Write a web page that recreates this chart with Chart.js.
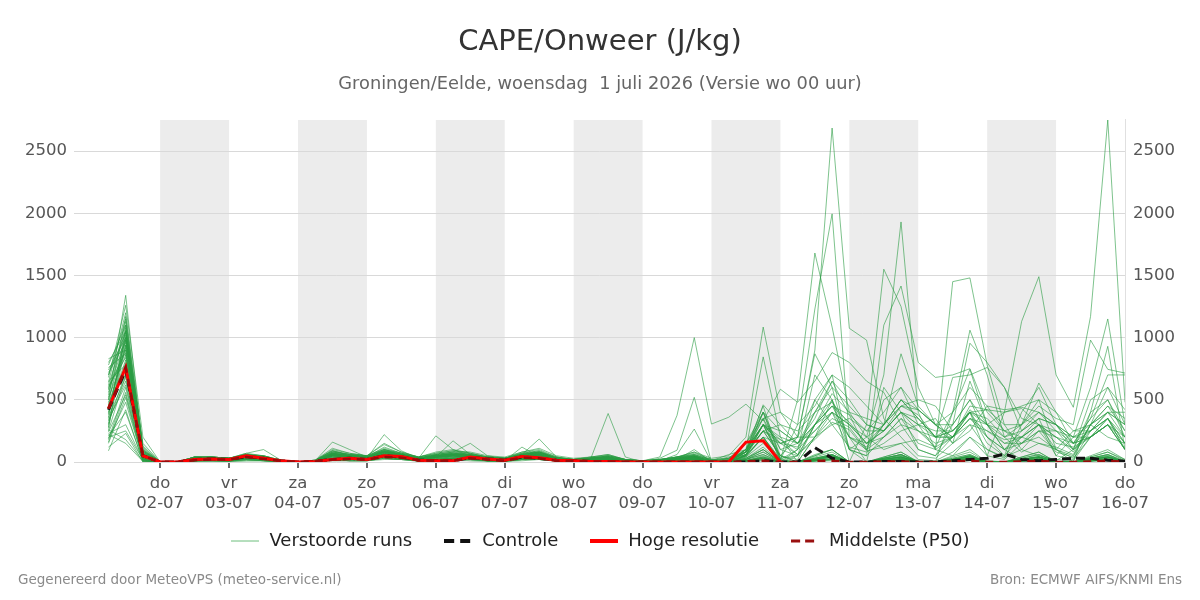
<!DOCTYPE html>
<html><head><meta charset="utf-8">
<script src="https://cdn.jsdelivr.net/npm/chart.js@4.4.1/dist/chart.umd.min.js"></script>
<style>html,body{margin:0;padding:0;background:#fff}canvas{display:block}</style>
</head><body>
<canvas id="c" width="1200" height="600"></canvas>
<script>
// hours since 1 July 00h (6-hourly steps)
const stepHours = [6,12,18,24,30,36,42,48,54,60,66,72,78,84,90,96,102,108,114,120,126,132,138,144,150,156,162,168,174,180,186,192,198,204,210,216,222,228,234,240,246,252,258,264,270,276,282,288,294,300,306,312,318,324,330,336,342,348,354,360];
const tickHours = [24,48,72,96,120,144,168,192,216,240,264,288,312,336,360];
const dayNames = ['do','vr','za','zo','ma','di','wo','do','vr','za','zo','ma','di','wo','do'];
const dayDates = ['02-07','03-07','04-07','05-07','06-07','07-07','08-07','09-07','10-07','11-07','12-07','13-07','14-07','15-07','16-07'];
const shadedStartHours = [24,72,120,168,216,264,312];
const yTickValues = [0,500,1000,1500,2000,2500];

const hres = [430,760,50, 0,0,20,25, 20,50,30,10, 0,5,20,30, 20,50,45,15, 10,10,40,25, 15,45,35,15, 10,5,5,0, 0,0,0,0, 0,0,160,170, 0, null,null,null,null,null,null,null,null,null,null,null,null,null,null,null,null,null,null,null,null];
const control = [420,740,50, 0,0,20,25, 20,45,30,10, 0,5,20,30, 20,50,40,15, 10,10,35,25, 15,40,30,15, 10,5,5,0, 0,0,0,0, 0,0,0,10, 0,0,115,30, 0,0,5,5, 0,0,10,20, 30,65,20,10, 20,30,30,15, 5];
const p50 = [430,760,50, 0,0,15,20, 20,40,25,10, 0,5,20,25, 20,40,35,15, 10,10,30,20, 10,35,30,10, 5,5,5,0, 0,0,0,0, 0,0,5,10, 0,0,10,10, 0,0,5,5, 0,0,5,10, 0,0,5,10, 0,0,5,10, 0];

const run01 = [620,1050,60, 0,0,30,20, 20,50,40,10, 0,10,90,50, 40,100,60,30, 50,60,40,30, 20,60,70,30, 10,30,40,10, 5,10,40,80, 10,0,50,300, 150,200,900,2685, 1075,980,350,200, 50,30,150,300, 100,40,100,250, 80,40,300,400, 200];
const run02 = [830,900,40, 0,0,20,30, 30,40,30,5, 0,5,60,40, 30,80,50,20, 40,60,50,30, 20,50,60,20, 10,20,30,10, 5,10,20,100, 0,20,150,400, 20,300,1230,1995, 200,0,600,400, 100,50,300,500, 200,50,400,600, 300,100,500,600, 300];
const run03 = [500,1340,80, 0,0,10,20, 20,30,20,5, 0,0,40,30, 30,60,40,20, 30,40,30,20, 10,40,50,20, 10,20,20,10, 0,5,10,20, 0,0,100,450, 20,500,1680,1085, 400,200,100,150, 20,10,80,200, 50,20,150,300, 100,30,200,350, 150];
const run04 = [300,980,30, 0,0,40,30, 20,50,30,10, 0,10,80,60, 40,120,70,30, 60,80,60,40, 30,70,90,40, 20,30,50,20, 10,20,30,60, 20,10,80,250, 50,0,200,500, 0,300,1550,1250, 600,300,200,400, 150,50,200,300, 50,20,250,350, 100];
const run05 = [250,700,20, 0,0,20,20, 10,30,20,0, 0,0,30,30, 20,50,30,10, 20,30,30,20, 10,30,40,10, 5,10,20,5, 0,0,10,30, 10,0,60,400, 100,50,500,700, 100,200,700,1930, 400,100,50,200, 100,30,300,500, 100,0,400,500, 250];
const run06 = [700,1150,100, 0,0,30,30, 20,60,50,10, 0,10,100,70, 50,140,80,40, 80,100,70,40, 30,80,100,40, 20,40,60,20, 10,20,40,50, 20,30,150,350, 0,100,400,600, 100,50,1100,1415, 800,680,700,750, 400,250,150,200, 100,50,300,450, 350];
const run07 = [420,820,50, 0,0,20,30, 20,40,30,5, 0,5,50,40, 30,70,50,30, 40,50,40,30, 20,50,60,20, 10,20,30,10, 5,10,30,40, 0,0,100,300, 50,20,300,500, 200,100,500,600, 300,100,1450,1480, 780,300,100,50, 20,10,200,300, 100];
const run08 = [180,600,10, 0,0,10,10, 10,20,10,0, 0,0,20,20, 20,40,30,10, 20,30,20,10, 10,20,30,10, 0,10,10,0, 0,0,10,20, 0,20,60,200, 150,60,180,320, 260,90,120,150, 180,120,400,1060, 700,200,80,150, 120,60,300,600, 420];
const run09 = [560,1000,70, 0,0,40,40, 30,60,40,10, 0,10,70,50, 40,90,60,30, 50,70,60,40, 30,60,80,30, 20,30,40,10, 5,10,30,40, 10,40,80,460, 300,150,350,650, 380,100,300,500, 350,200,300,955, 800,600,350,300, 200,80,300,400, 300];
const run10 = [350,1080,40, 0,0,20,20, 20,40,30,10, 0,5,50,40, 30,70,50,20, 40,50,40,20, 20,40,50,20, 10,20,30,10, 0,10,20,30, 0,10,50,200, 0,50,300,400, 100,50,200,300, 100,50,200,400, 50,400,1130,1490, 700,440,1170,2750, 480];
const run11 = [760,870,90, 0,0,30,30, 30,50,40,10, 0,10,60,50, 40,80,60,30, 50,60,50,30, 20,50,70,30, 10,20,30,10, 0,10,20,40, 0,30,60,300, 180,60,200,400, 200,120,300,450, 380,200,250,400, 300,150,200,350, 50,200,600,1150, 300];
const run12 = [90,420,0, 0,0,10,10, 5,10,10,0, 0,0,20,10, 10,30,20,10, 10,20,20,10, 5,20,20,10, 0,5,10,0, 0,0,5,10, 0,0,10,30, 0,0,20,60, 0,0,30,50, 10,0,20,40, 10,0,20,50, 10,100,400,930, 100];
const run13 = [280,940,60, 0,0,30,30, 20,50,40,10, 0,10,70,50, 40,90,60,30, 50,60,50,30, 20,60,70,30, 10,30,40,10, 5,10,30,50, 10,60,100,400, 250,150,400,480, 300,150,300,500, 420,300,400,600, 450,250,300,450, 350,300,980,745, 715];
const run14 = [640,1200,120, 0,0,40,40, 30,70,50,15, 0,15,110,70, 50,150,80,40, 70,90,80,50, 40,80,110,50, 30,40,60,20, 10,20,40,80, 30,50,200,1085, 400,200,500,300, 350,250,400,600, 420,300,300,500, 300,200,300,400, 250,150,350,500, 200];
const run15 = [200,250,20, 0,0,10,20, 10,30,20,0, 0,0,30,20, 20,40,30,10, 20,30,30,20, 10,30,40,10, 5,10,20,5, 0,5,10,20, 0,0,100,845, 200,0,20,40, 0,0,10,30, 0,0,10,30, 0,0,10,20, 0,0,10,30, 0];
const run16 = [480,760,30, 0,0,20,20, 20,40,30,10, 0,5,50,40, 30,60,40,20, 40,50,40,20, 20,40,50,20, 10,20,30,10, 10,40,375,1000, 305,360,465,330, 585,480,650,880, 800,650,560,300, 250,120,200,420, 300,250,200,150, 100,250,300,200, 150];
const run17 = [380,1020,50, 0,0,30,30, 20,40,40,10, 0,10,60,40, 30,80,50,30, 40,60,50,30, 20,50,60,20, 10,20,30,10, 0,30,95,520, 0,0,50,300, 20,100,700,500, 100,0,10,30, 0,0,10,20, 0,0,10,20, 0,0,10,30, 0];
const run18 = [720,960,80, 0,0,30,30, 30,50,40,10, 0,10,60,50, 40,70,60,30, 50,60,50,30, 20,50,60,30, 10,20,40,10, 0,10,60,265, 0,0,80,400, 50,0,30,60, 0,0,10,20, 0,0,20,40, 0,0,10,30, 0,0,20,40, 0];
const run19 = [150,520,10, 0,0,10,10, 10,20,20,0, 0,0,20,20, 20,40,30,10, 20,30,30,10, 10,30,30,10, 5,30,390,40, 0,0,10,20, 0,0,20,60, 0,0,10,30, 0,0,10,20, 0,0,10,30, 0,0,10,20, 0,0,10,20, 0];
const run20 = [540,1100,70, 0,0,30,30, 30,50,40,10, 0,10,160,100, 40,80,60,30, 40,60,50,30, 20,50,60,20, 10,20,30,10, 5,10,20,40, 0,10,100,300, 200,150,250,400, 300,200,300,870, 450,300,200,350, 250,150,150,250, 200,150,250,350, 150];
const run21 = [260,180,10, 0,0,20,20, 10,30,20,0, 0,0,40,30, 30,220,90,30, 30,40,40,20, 10,30,40,10, 5,10,20,5, 0,0,10,20, 0,0,10,40, 0,0,20,50, 0,0,10,30, 0,0,20,40, 0,0,10,30, 0,0,20,40, 0];
const run22 = [600,880,40, 0,0,30,30, 20,50,40,10, 0,10,70,50, 40,80,60,30, 210,100,50,30, 20,60,70,30, 10,20,30,10, 5,10,20,40, 10,0,60,250, 300,250,400,650, 500,300,250,450, 420,300,150,650, 300,100,150,250, 250,200,200,300, 100];
const run23 = [330,650,20, 0,0,20,20, 20,40,30,10, 0,5,50,40, 30,60,40,20, 40,170,60,30, 20,40,50,20, 10,20,30,10, 0,10,20,30, 0,0,20,100, 0,0,30,50, 0,0,20,40, 0,0,20,50, 0,0,20,40, 0,0,30,50, 0];
const run24 = [800,1050,150, 0,0,40,40, 30,60,50,15, 0,15,90,60, 50,100,70,40, 60,80,150,50, 30,60,80,30, 20,30,50,20, 10,20,40,60, 10,30,100,300, 150,120,300,450, 380,250,250,400, 300,200,250,400, 420,400,430,300, 250,100,250,400, 400];
const run25 = [450,940,60, 0,0,30,30, 20,50,40,10, 0,10,60,50, 40,80,60,30, 50,60,50,30, 20,60,185,40, 10,30,40,10, 5,10,20,50, 0,0,40,200, 20,0,50,100, 0,0,30,60, 0,0,30,60, 0,0,30,60, 0,0,40,80, 20];
const run26 = [230,300,15, 0,0,10,20, 10,30,20,5, 0,0,30,20, 20,40,30,10, 20,30,30,10, 10,120,40,10, 5,10,20,5, 0,0,10,20, 0,0,10,30, 0,0,10,20, 0,0,10,30, 0,0,10,20, 0,0,10,20, 0,0,10,30, 0];
const run27 = [680,1260,200, 0,0,40,40, 30,70,100,15, 0,15,90,60, 50,110,70,40, 70,90,70,40, 30,70,90,30, 20,40,50,20, 10,20,40,70, 20,0,80,350, 400,300,450,700, 600,450,300,500, 350,200,680,700, 760,600,250,400, 300,150,350,700, 700];
const run28 = [160,560,20, 0,0,10,10, 10,20,20,0, 0,0,20,20, 20,40,30,10, 20,30,20,10, 10,20,30,10, 5,10,20,5, 0,0,10,20, 0,0,10,50, 0,0,20,40, 0,0,30,60, 0,0,10,30, 0,0,10,30, 0,0,20,40, 0];
const run29 = [520,860,30, 0,0,20,30, 20,40,30,10, 0,5,60,40, 30,70,50,20, 40,50,40,30, 20,50,60,20, 10,20,30,10, 0,10,20,30, 0,0,30,120, 0,0,40,80, 0,0,20,50, 0,0,30,60, 0,0,20,40, 0,0,30,60, 10];
const run30 = [400,1000,90, 0,0,30,30, 20,50,40,10, 0,10,70,50, 40,90,60,30, 50,60,50,30, 20,60,70,30, 10,30,40,10, 5,10,30,40, 0,0,50,200, 0,0,60,100, 0,0,40,80, 0,0,50,100, 0,0,40,80, 0,0,50,100, 20];
const run31 = [310,720,40, 0,0,20,20, 20,40,30,10, 0,5,50,40, 30,60,40,20, 30,50,40,20, 20,40,50,20, 10,20,30,10, 0,10,20,30, 0,0,10,40, 0,0,10,30, 0,0,10,20, 0,0,10,30, 0,0,10,20, 0,0,10,20, 0];
const run32 = [580,1130,110, 0,0,40,40, 30,60,40,15, 0,10,80,60, 40,100,60,30, 60,70,60,40, 30,60,80,30, 20,30,40,15, 5,15,30,50, 0,0,60,250, 150,200,200,350, 280,100,200,350, 150,100,200,300, 250,180,200,300, 150,120,200,300, 150];
const run33 = [210,400,10, 0,0,10,10, 10,20,10,0, 0,0,20,10, 10,30,20,10, 10,20,20,10, 5,20,20,10, 0,5,10,0, 0,0,5,10, 0,0,5,20, 0,0,10,20, 0,0,5,15, 0,0,5,20, 0,0,5,15, 0,0,5,20, 0];
const run34 = [650,780,50, 0,0,30,30, 20,50,40,10, 0,10,60,40, 30,70,50,30, 40,60,50,30, 20,50,60,20, 10,20,30,10, 5,10,20,40, 0,0,20,80, 0,0,30,60, 0,0,20,40, 0,0,20,50, 0,0,20,40, 0,0,20,50, 0];
const run35 = [440,920,60, 0,0,30,30, 20,50,40,10, 0,10,60,50, 40,80,60,30, 50,60,50,30, 20,50,60,30, 10,20,30,10, 5,10,20,40, 0,0,30,100, 0,0,30,60, 0,0,20,40, 0,0,400,745, 300,100,20,40, 0,0,20,40, 0];
const run36 = [120,230,0, 0,0,5,10, 5,10,10,0, 0,0,10,10, 10,20,20,5, 10,20,10,5, 5,10,20,5, 0,5,10,0, 0,0,5,10, 0,0,5,10, 0,0,5,10, 0,0,5,10, 0,0,5,10, 0,0,5,10, 0,0,5,10, 0];
const run37 = [740,1000,70, 0,0,30,30, 30,50,40,10, 0,10,70,50, 40,80,60,30, 50,60,50,30, 20,60,70,30, 10,20,40,10, 5,10,30,40, 10,0,80,250, 50,200,870,600, 450,300,250,400, 350,200,200,350, 300,400,450,500, 400,150,200,300, 200];
const run38 = [360,680,30, 0,0,20,20, 20,40,30,10, 0,5,50,40, 30,60,40,20, 40,50,40,20, 20,40,50,20, 10,20,30,10, 0,10,20,30, 0,0,20,80, 0,0,20,40, 0,0,20,40, 0,0,20,50, 0,0,20,40, 0,0,30,60, 0];
const run39 = [270,1060,80, 0,0,30,30, 20,50,40,10, 0,10,60,50, 40,80,60,30, 50,60,50,30, 20,50,60,30, 10,20,30,10, 5,10,20,40, 0,0,80,300, 30,50,300,450, 200,150,200,350, 250,150,200,450, 420,300,300,635, 400,250,250,350, 100];
const run40 = [610,840,40, 0,0,20,30, 20,40,30,10, 0,5,50,40, 30,60,50,20, 40,50,40,20, 20,40,50,20, 10,20,30,10, 0,10,20,30, 0,0,30,100, 0,0,20,50, 0,0,30,60, 0,0,20,40, 0,0,30,60, 0,0,20,40, 0];
const run41 = [190,480,20, 0,0,10,20, 10,30,20,0, 0,0,30,20, 20,40,30,10, 20,30,30,10, 10,30,40,10, 5,10,20,5, 0,0,10,20, 0,0,10,30, 0,0,10,20, 0,0,10,20, 0,0,10,20, 0,0,10,20, 0,0,10,20, 0];
const run42 = [500,980,50, 0,0,30,30, 20,50,40,10, 0,10,60,40, 40,80,60,30, 40,60,50,30, 20,50,60,20, 10,20,30,10, 5,10,20,40, 0,0,40,150, 0,0,50,100, 0,0,40,80, 0,0,40,80, 0,0,40,80, 0,0,40,80, 10];
const run43 = [780,1100,130, 0,0,40,40, 30,60,50,15, 0,15,80,60, 50,100,70,40, 60,80,70,40, 30,70,80,40, 20,30,50,20, 10,20,40,60, 10,0,100,350, 100,150,300,550, 400,350,300,450, 500,450,250,400, 350,200,250,350, 300,200,250,400, 300];
const run44 = [340,620,30, 0,0,20,20, 20,40,30,10, 0,5,40,30, 30,60,40,20, 30,40,40,20, 20,40,40,20, 10,20,30,10, 0,10,20,30, 0,0,10,40, 0,0,20,40, 0,0,20,40, 0,0,20,40, 0,0,20,40, 0,0,20,40, 0];
const run45 = [460,1170,100, 0,0,30,40, 30,60,40,10, 0,10,70,50, 40,90,60,30, 50,70,60,30, 30,60,80,30, 20,30,40,10, 5,10,30,50, 0,20,80,250, 180,100,250,400, 300,150,250,400, 250,200,200,350, 200,100,200,300, 200,100,200,350, 200];
const run46 = [220,150,5, 0,0,10,10, 5,20,10,0, 0,0,20,10, 10,30,20,10, 10,20,20,10, 5,20,20,10, 0,5,10,0, 0,0,5,10, 0,0,5,20, 0,0,10,20, 0,0,10,20, 0,0,10,20, 0,0,10,20, 0,0,10,20, 0];
const run47 = [590,900,60, 0,0,30,30, 20,50,40,10, 0,10,60,50, 40,80,60,30, 50,60,50,30, 20,50,60,30, 10,20,30,10, 5,10,20,40, 0,0,50,200, 20,0,200,300, 120,80,150,250, 300,350,150,250, 450,420,440,400, 300,150,200,300, 100];
const run48 = [390,800,40, 0,0,20,30, 20,40,30,10, 0,5,50,40, 30,60,50,20, 40,50,40,20, 20,40,50,20, 10,20,30,10, 0,10,20,30, 0,0,20,60, 0,0,20,50, 0,0,30,60, 0,0,20,50, 0,0,20,40, 0,0,30,60, 0];
const run49 = [700,1040,90, 0,0,30,40, 30,60,40,10, 0,10,70,50, 40,90,60,30, 50,70,60,30, 30,60,80,30, 20,30,40,10, 5,10,30,50, 0,30,80,300, 250,150,300,450, 320,150,250,400, 300,250,250,400, 200,100,250,350, 300,200,300,450, 250];
const run50 = [240,540,25, 0,0,10,20, 10,30,20,0, 0,0,30,20, 20,40,30,10, 20,30,30,10, 10,30,40,10, 5,10,20,5, 0,0,10,20, 0,0,10,30, 0,0,20,40, 0,0,20,40, 0,0,20,40, 0,0,20,40, 0,0,20,40, 0];

const runs = [run01,run02,run03,run04,run05,run06,run07,run08,run09,run10,run11,run12,run13,run14,run15,run16,run17,run18,run19,run20,run21,run22,run23,run24,run25,run26,run27,run28,run29,run30,run31,run32,run33,run34,run35,run36,run37,run38,run39,run40,run41,run42,run43,run44,run45,run46,run47,run48,run49,run50];

[hres, control, p50].concat(runs).forEach((a, k) => {
  if (a.length !== stepHours.length) throw new Error('series ' + k + ' has length ' + a.length);
});

const FONT = 'DejaVu Sans';
const RUN_COLOR = 'rgba(40,155,65,0.6)';
const toXY = arr => arr.map((v, i) => ({x: stepHours[i], y: v})).filter(p => p.y !== null);

// legend symbols drawn as small canvases
function legendSymbol(color, lineWidth, dash) {
  const c = document.createElement('canvas');
  c.width = 28; c.height = 8;
  const g = c.getContext('2d');
  g.strokeStyle = color; g.lineWidth = lineWidth; g.setLineDash(dash);
  g.beginPath(); g.moveTo(0, 4); g.lineTo(28, 4); g.stroke();
  return c;
}

const common = {pointRadius: 0, pointHoverRadius: 0, fill: false, tension: 0};
const datasets = [];
datasets.push(Object.assign({}, common, {label: 'Middelste (P50)', data: toXY(p50), borderColor: '#9a0a0a', borderWidth: 2.5, borderDash: [8, 6], pointStyle: legendSymbol('#9a1010', 3, [9, 5]), order: 0, rank: 3}));
datasets.push(Object.assign({}, common, {label: 'Hoge resolutie', data: toXY(hres), borderColor: '#ff0000', borderWidth: 3, pointStyle: legendSymbol('#ff0000', 4, []), order: 1, rank: 2}));
datasets.push(Object.assign({}, common, {label: 'Controle', data: toXY(control), borderColor: '#111111', borderWidth: 3, borderDash: [9, 5], pointStyle: legendSymbol('#111111', 4, [10, 6]), order: 2, rank: 1}));
const runSymbol = legendSymbol('rgba(60,170,80,0.75)', 1, []);
runs.forEach((r, k) => {
  datasets.push(Object.assign({}, common, {label: k === 0 ? 'Verstoorde runs' : '_run' + (k + 1), data: toXY(r), borderColor: RUN_COLOR, borderWidth: 1, pointStyle: runSymbol, order: 3 + k, rank: k === 0 ? 0 : 99}));
});

const bandsPlugin = {
  id: 'bands',
  beforeDraw(chart) {
    const {ctx, chartArea, scales} = chart;
    const xs = scales.x;
    ctx.save();
    ctx.fillStyle = '#ececec';
    shadedStartHours.forEach(h => {
      const x1 = Math.max(xs.getPixelForValue(h), chartArea.left);
      const x2 = Math.min(xs.getPixelForValue(h + 24), chartArea.right);
      ctx.fillRect(x1, chartArea.top, x2 - x1, chartArea.bottom - chartArea.top);
    });
    ctx.restore();
  }
};
const legendShiftPlugin = {
  id: 'legendShift',
  afterLayout(chart) {
    const lg = chart.legend;
    if (!lg) return;
    const center = lg.top + lg.options.labels.padding + 9;
    const shift = center - 541;
    lg.top -= shift; lg.bottom -= shift;
  }
};
const footerPlugin = {
  id: 'footer',
  afterDraw(chart) {
    const ctx = chart.ctx;
    ctx.save();
    ctx.font = '13.5px "' + FONT + '"';
    ctx.fillStyle = '#8a8a8a';
    ctx.textBaseline = 'middle';
    ctx.textAlign = 'left';
    ctx.fillText('Gegenereerd door MeteoVPS (meteo-service.nl)', 18, 580);
    ctx.textAlign = 'right';
    ctx.fillText('Bron: ECMWF AIFS/KNMI Ens', 1182, 580);
    ctx.restore();
  }
};

const yTicks = s => { s.ticks = yTickValues.map(v => ({value: v})); };
const tickFont = {size: 16.5, family: FONT};

new Chart(document.getElementById('c'), {
  type: 'line',
  data: {datasets},
  plugins: [bandsPlugin, legendShiftPlugin, footerPlugin],
  options: {
    responsive: false,
    devicePixelRatio: 1,
    animation: false,
    events: [],
    layout: {padding: {top: 0, left: 0, right: 0, bottom: 19}},
    plugins: {
      title: {display: true, text: 'CAPE/Onweer (J/kg)', color: '#333', font: {size: 29, weight: 'normal', family: FONT}, padding: {top: 25, bottom: 0}},
      subtitle: {display: true, text: 'Groningen/Eelde, woensdag  1 juli 2026 (Versie wo 00 uur)', color: '#666', font: {size: 17.8, weight: 'normal', family: FONT}, padding: {top: 13.8, bottom: 25}},
      legend: {
        position: 'bottom',
        labels: {
          usePointStyle: true, pointStyleWidth: 30, padding: 31, color: '#222',
          font: {size: 18, family: FONT},
          filter: (item, data) => data.datasets[item.datasetIndex].rank < 99,
          sort: (a, b, data) => data.datasets[a.datasetIndex].rank - data.datasets[b.datasetIndex].rank
        }
      },
      tooltip: {enabled: false}
    },
    scales: {
      x: {
        type: 'linear', min: -6, max: 360, position: 'bottom',
        afterBuildTicks: s => { s.ticks = tickHours.map(v => ({value: v})); },
        afterFit: s => { s.height = 60; },
        ticks: {autoSkip: false, maxRotation: 0, padding: 6, color: '#555', font: tickFont,
          callback: (v, i) => [dayNames[i], dayDates[i]]},
        grid: {drawOnChartArea: false, drawTicks: true, tickLength: 6, color: '#6a6a6a', lineWidth: 2},
        border: {display: false}
      },
      y: {
        position: 'left', min: 0, max: 2750,
        afterBuildTicks: yTicks,
        afterFit: s => { s.width = 74; },
        ticks: {padding: 7, color: '#555', font: tickFont, callback: v => String(v)},
        grid: {color: '#d9d9d9', drawTicks: false, lineWidth: 1},
        border: {display: false}
      },
      y2: {
        position: 'right', min: 0, max: 2750,
        afterBuildTicks: yTicks,
        afterFit: s => { s.width = 75; },
        ticks: {padding: 8, color: '#555', font: tickFont, callback: v => String(v)},
        grid: {drawOnChartArea: false, drawTicks: false},
        border: {display: true, color: '#e0e0e0'}
      }
    }
  }
});
</script>
</body></html>
